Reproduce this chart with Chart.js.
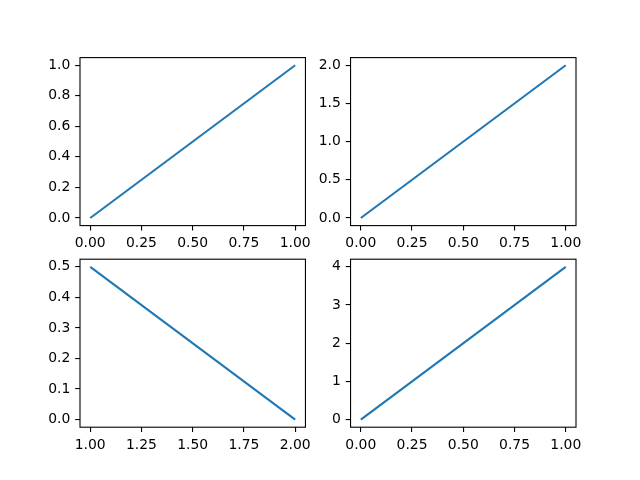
<!DOCTYPE html>
<html>
<head>
<meta charset="utf-8">
<script src="https://cdn.jsdelivr.net/npm/chart.js@4/dist/chart.umd.min.js"></script>
<style>
  html, body { margin: 0; padding: 0; background: #fff; }
  #fig { position: relative; width: 640px; height: 480px; }
  #fig canvas { position: absolute; left: 0; top: 0; pointer-events: none; }
</style>
</head>
<body>
<div id="fig">
  <canvas id="ax1" width="640" height="480"></canvas>
  <canvas id="ax2" width="640" height="480"></canvas>
  <canvas id="ax3" width="640" height="480"></canvas>
  <canvas id="ax4" width="640" height="480"></canvas>
</div>
<script>
// data for the four subplots
const x1 = [0, 1];
const y1 = [0, 1];
const x2 = [0, 1];
const y2 = [0, 2];
const x3 = [1, 2];
const y3 = [0.5, 0];
const x4 = [0, 1];
const y4 = [0, 4];

// tick labels
const xTicks1 = ['0.00', '0.25', '0.50', '0.75', '1.00'];
const yTicks1 = ['0.0', '0.2', '0.4', '0.6', '0.8', '1.0'];
const xTicks2 = ['0.00', '0.25', '0.50', '0.75', '1.00'];
const yTicks2 = ['0.0', '0.5', '1.0', '1.5', '2.0'];
const xTicks3 = ['1.00', '1.25', '1.50', '1.75', '2.00'];
const yTicks3 = ['0.0', '0.1', '0.2', '0.3', '0.4', '0.5'];
const xTicks4 = ['0.00', '0.25', '0.50', '0.75', '1.00'];
const yTicks4 = ['0', '1', '2', '3', '4'];

// matplotlib default subplot geometry (px)
const W = 640, H = 480;
const colLeft = [80, 350.55];
const colRight = [305.45, 576];
const rowTop = [57.6, 259.2];
const rowBottom = [225.6, 427.2];
const Y_W = 40, X_H = 30;

const tickLen = 4.86;
const tickPad = 4.86;
const font = { family: 'DejaVu Sans', size: 13.9 };

const frame = {
  id: 'frame',
  afterDraw(chart) {
    const { ctx, chartArea: a } = chart;
    ctx.save();
    ctx.strokeStyle = '#000';
    ctx.lineWidth = 1.1;
    ctx.strokeRect(a.left, a.top, a.right - a.left, a.bottom - a.top);
    ctx.restore();
  }
};

function lims(arr) {
  const lo = Math.min(...arr), hi = Math.max(...arr);
  const m = (hi - lo) * 0.05;
  return [lo - m, hi + m];
}

function makeAxis(id, xs, ys, xLabels, yLabels, col, row) {
  const [xmin, xmax] = lims(xs);
  const [ymin, ymax] = lims(ys);
  const pts = xs.map((x, i) => ({ x, y: ys[i] }));
  const axisOpts = (labels, fitFn) => ({
    type: 'linear',
    afterBuildTicks: (s) => { s.ticks = labels.map(l => ({ value: parseFloat(l) })); },
    afterFit: fitFn,
    grid: { display: true, drawOnChartArea: false, drawTicks: true, tickLength: tickLen, color: '#000', lineWidth: 1.1 },
    border: { display: false },
    ticks: {
      color: '#000',
      font,
      padding: tickPad,
      maxRotation: 0,
      autoSkip: false,
      callback: (v, i) => labels[i]
    }
  });
  const xOpts = axisOpts(xLabels, (s) => { s.height = X_H; });
  xOpts.min = xmin; xOpts.max = xmax;
  const yOpts = axisOpts(yLabels, (s) => { s.width = Y_W; });
  yOpts.min = ymin; yOpts.max = ymax;

  new Chart(document.getElementById(id), {
    type: 'line',
    data: {
      datasets: [{
        data: pts,
        borderColor: '#1f77b4',
        borderWidth: 2.08,
        pointRadius: 0,
        fill: false,
        tension: 0
      }]
    },
    options: {
      responsive: false,
      animation: false,
      events: [],
      layout: {
        padding: {
          left: colLeft[col] - Y_W,
          right: W - colRight[col],
          top: rowTop[row],
          bottom: H - rowBottom[row] - X_H
        }
      },
      plugins: { legend: { display: false }, tooltip: { enabled: false } },
      scales: { x: xOpts, y: yOpts }
    },
    plugins: [frame]
  });
}

window.addEventListener('load', () => {
  makeAxis('ax1', x1, y1, xTicks1, yTicks1, 0, 0);
  makeAxis('ax2', x2, y2, xTicks2, yTicks2, 1, 0);
  makeAxis('ax3', x3, y3, xTicks3, yTicks3, 0, 1);
  makeAxis('ax4', x4, y4, xTicks4, yTicks4, 1, 1);
});
</script>
</body>
</html>
